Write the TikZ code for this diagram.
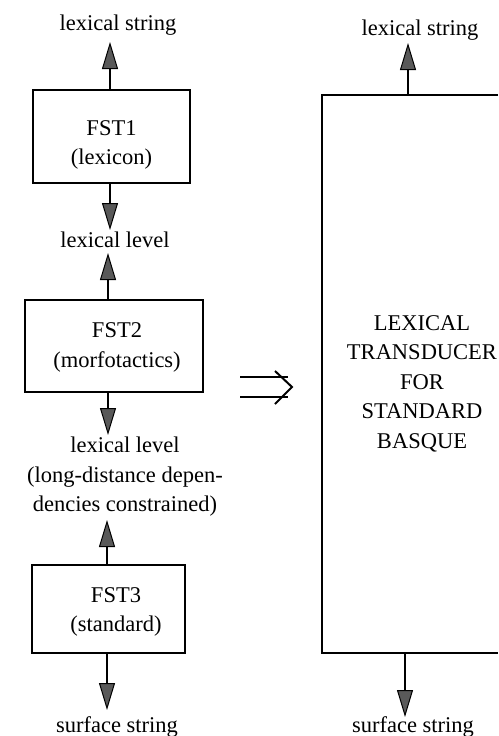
\documentclass[tikz,border=0pt]{standalone}
\usepackage{fontspec}
\setmainfont{Liberation Serif}
\usetikzlibrary{arrows.meta}
\begin{document}
\begin{tikzpicture}[x=1pt,y=-1pt,
  txt/.style={font=\fontsize{22.5}{29.5}\selectfont, align=center, inner sep=0pt},
  fstbox/.style={draw, line width=2.5pt, inner sep=0pt},
  bigbox/.style={inner sep=0pt},
  arr/.style={line width=2.5pt, -{Triangle[length=27pt,width=16pt,fill=black!65,line width=1pt]}}
  ]
\useasboundingbox (0,0) rectangle (498,736);
% left column
\node[txt] (t1) at (118,25) {lexical string};
\node[fstbox, minimum width=157pt, minimum height=93pt] (b1) at (111.5,136.5) {};
\node[txt] (b1t) at (111.5,145) {FST1\\(lexicon)};
\node[txt] (t2) at (115,240) {lexical level};
\node[fstbox, minimum width=178pt, minimum height=92pt] (b2) at (114,346) {};
\node[txt] (b2t) at (117,347.5) {FST2\\(morfotactics)};
\node[txt] (t3) at (125,477) {lexical level\\(long-distance depen-\\dencies constrained)};
\node[fstbox, minimum width=153pt, minimum height=88pt] (b3) at (108.5,609) {};
\node[txt] (b3t) at (116,612) {FST3\\(standard)};
\node[txt] (t4) at (117,727) {surface string};
% right column (box runs past the right edge of the picture)
\node[txt] (t5) at (420,30) {lexical string};
\node[bigbox, minimum width=200pt, minimum height=558pt] (lt) at (422,374) {};
\coordinate (edge) at (498,0);
\draw[line width=2.5pt] (lt.north west -| edge) -- (lt.north west) -- (lt.south west) -- (lt.south west -| edge);
\node[txt] (ltt) at (422,383.5) {LEXICAL\\TRANSDUCER\\FOR\\STANDARD\\BASQUE};
\node[txt] (t6) at (413,727) {surface string};
% arrow tips
\coordinate (a1) at (110,42);
\coordinate (a2) at (110,230);
\coordinate (a3) at (108,253);
\coordinate (a4) at (108,435);
\coordinate (a5) at (107,520);
\coordinate (a6) at (107,710);
\coordinate (a7) at (408,43);
\coordinate (a8) at (405,717);
\draw[arr] (b1.north -| a1) -- (a1);
\draw[arr] (b1.south -| a2) -- (a2);
\draw[arr] (b2.north -| a3) -- (a3);
\draw[arr] (b2.south -| a4) -- (a4);
\draw[arr] (b3.north -| a5) -- (a5);
\draw[arr] (b3.south -| a6) -- (a6);
\draw[arr] (lt.north -| a7) -- (a7);
\draw[arr] (lt.south -| a8) -- (a8);
% implication symbol
\draw[line width=2pt] (240,377) -- (288,377);
\draw[line width=2pt] (240,397) -- (288,397);
\draw[line width=2pt, line join=miter] (275,371) -- (292,387) -- (275,404);
\end{tikzpicture}
\end{document}
